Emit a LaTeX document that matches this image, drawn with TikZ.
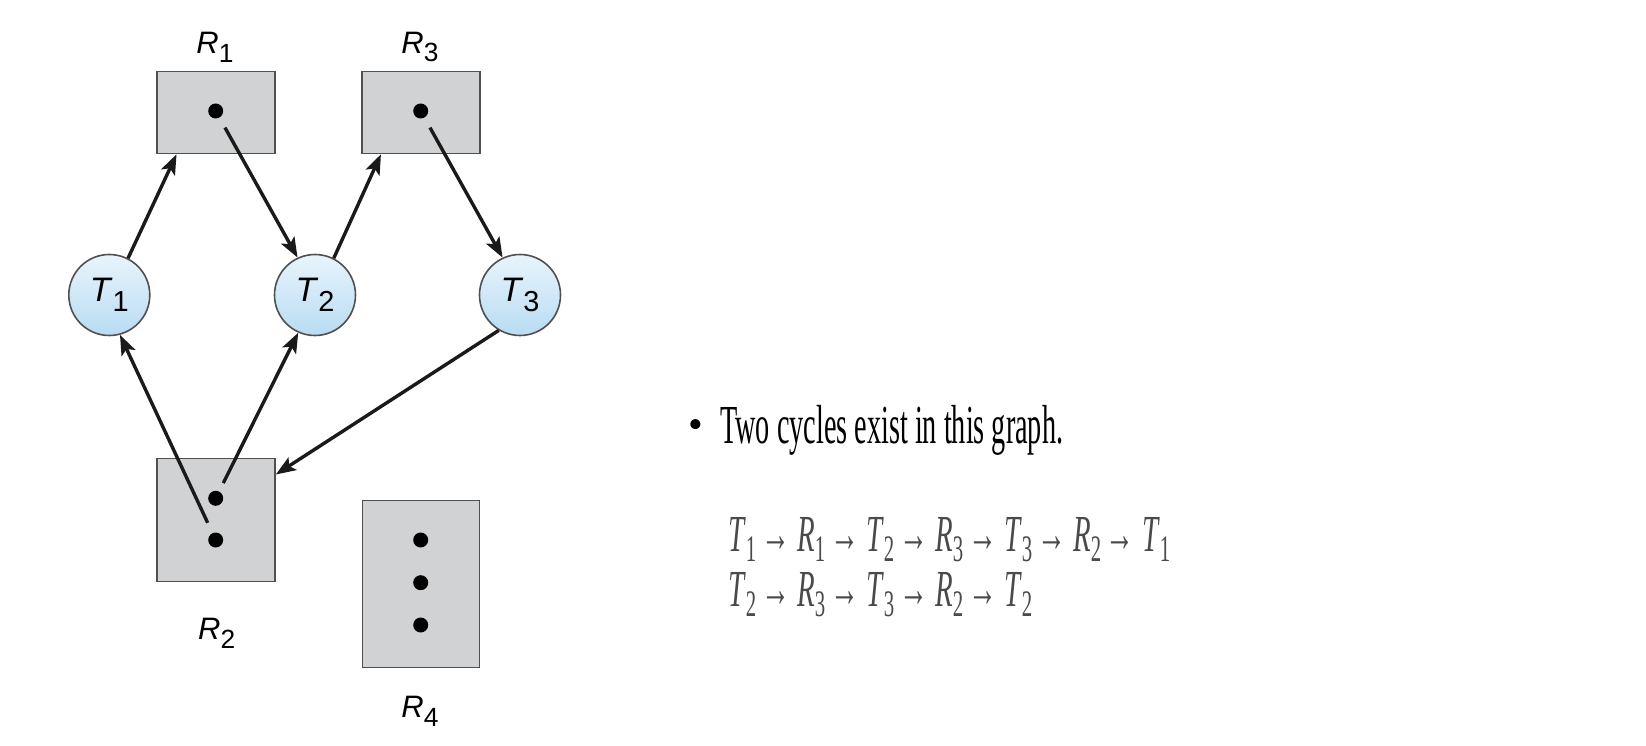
\documentclass[tikz,border=0pt]{standalone}
\usepackage{fontspec}
\usepackage{graphicx}
\setmainfont{Liberation Serif}
\newfontfamily\labfont{Liberation Sans}
\usetikzlibrary{arrows.meta,calc}
\definecolor{boxgray}{HTML}{D1D2D4}
\definecolor{boxline}{HTML}{505050}
\definecolor{circtop}{HTML}{E8F4FC}
\definecolor{circbot}{HTML}{B8DCF3}
\definecolor{arrowc}{HTML}{1A1A1A}
\definecolor{mathgray}{HTML}{4A4A4A}
\newcommand\Lab[2]{\textit{#1}\raisebox{-0.28em}{\scalebox{0.85}{#2}}}
\newcommand\Ms[2]{\textit{#1}\raisebox{-0.19em}{\scalebox{0.72}{#2}}}
\begin{document}
\begin{tikzpicture}[x=1pt,y=-1pt,
  res/.style={draw=boxline,line width=1.6pt,fill=boxgray,minimum width=118pt,inner sep=0pt},
  proc/.style={circle,draw=boxline,line width=1.6pt,top color=circtop,bottom color=circbot,minimum size=81pt,inner sep=0pt,font=\labfont\fontsize{34}{34}\selectfont},
  rdot/.style={circle,fill=black,minimum size=15pt,inner sep=0pt},
  lab/.style={font=\labfont\fontsize{31}{34}\selectfont,inner sep=0pt},
  conn/.style={draw=arrowc,line width=3.4pt,-{Stealth[length=20pt,width=15pt,inset=4.5pt]}}]
\useasboundingbox (0,0) rectangle (1646,746);
% resources
\node[res,minimum height=82pt] (R1) at (216,112.5) {};
\node[res,minimum height=82pt] (R3) at (421,112.5) {};
\node[res,minimum height=123pt] (R2) at (216,520) {};
\node[res,minimum width=117pt,minimum height=167pt] (R4) at (421,584) {};
\node[rdot] (d1) at (215.7,111) {};
\node[rdot] (d3) at (420.7,111) {};
\node[rdot] (d2a) at (215.7,498.3) {};
\node[rdot] (d2b) at (215.7,540) {};
\node[rdot] (d4a) at (420.7,540) {};
\node[rdot] (d4b) at (420.7,582.7) {};
\node[rdot] (d4c) at (420.7,625) {};
\node[lab] (L1) at (215,47) {\Lab{R}{1}};
\node[lab] (L3) at (420,47) {\Lab{R}{3}};
\node[lab] (L2) at (216.7,633) {\Lab{R}{2}};
\node[lab] (L4) at (420,711) {\Lab{R}{4}};
% threads
\node[proc] (T1) at (109.3,295) {\Lab{T}{1}};
\node[proc] (T2) at (315,295) {\Lab{T}{2}};
\node[proc] (T3) at (520,295) {\Lab{T}{3}};
% edges
\draw[conn] (T1.63) -- ($(R1.south west)!0.17!(R1.south east)$);
\draw[conn] ($(d1)!19pt!(T2.115)$) -- (T2.115);
\draw[conn] (T2.63) -- ($(R3.south west)!0.165!(R3.south east)$);
\draw[conn] ($(d3)!19pt!(T3.115)$) -- (T3.115);
\draw[conn] ($(d2b)!19pt!(T1.285)$) -- (T1.285);
\draw[conn] ($(d2a)!17pt!(T2.246)$) -- (T2.246);
\draw[conn] (T3.239) -- ($(R2.north east)!0.135!(R2.south east)$);
% text
\node[anchor=base,inner sep=0pt] (bul) at (696,438) {\fontsize{42}{44}\selectfont •};
\node[anchor=base west,inner sep=0pt] (title) at (720,443.3) {\fontsize{55}{58}\selectfont\resizebox{343pt}{\height}{Two cycles exist in this graph.}};
\node[anchor=base west,inner sep=0pt,text=mathgray] (cycles) at (728,551.7) {\fontsize{52}{55}\selectfont\resizebox{442pt}{\height}{\begin{tabular}[t]{@{}l@{}}
\Ms{T}{1}\,→\ \Ms{R}{1}\,→\ \Ms{T}{2}\,→\ \Ms{R}{3}\,→\ \Ms{T}{3}\,→\ \Ms{R}{2}\,→\ \Ms{T}{1}\\
\Ms{T}{2}\,→\ \Ms{R}{3}\,→\ \Ms{T}{3}\,→\ \Ms{R}{2}\,→\ \Ms{T}{2}
\end{tabular}}};
\end{tikzpicture}
\end{document}
